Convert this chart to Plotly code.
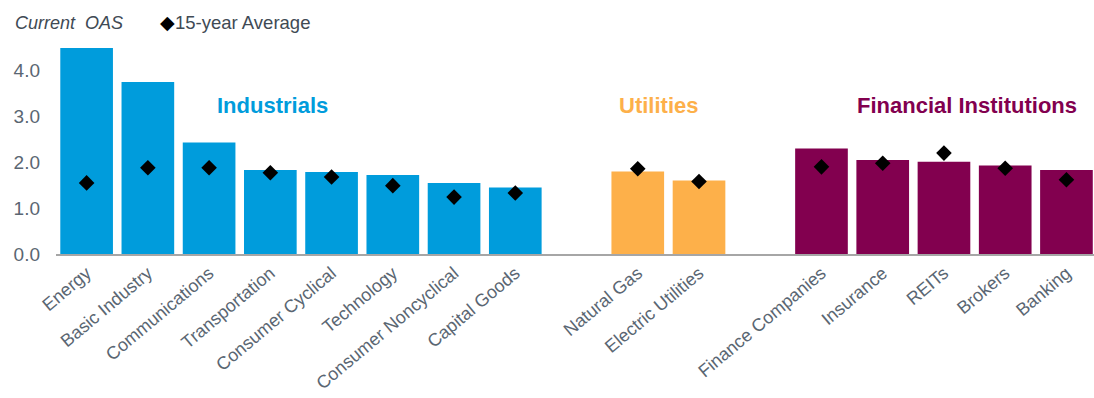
import plotly.graph_objects as go

industrials = ["Energy", "Basic Industry", "Communications", "Transportation",
               "Consumer Cyclical", "Technology", "Consumer Noncyclical", "Capital Goods"]
utilities = ["Natural Gas", "Electric Utilities"]
financials = ["Finance Companies", "Insurance", "REITs", "Brokers", "Banking"]

ind_oas = [4.49, 3.75, 2.43, 1.83, 1.79, 1.72, 1.55, 1.45]
ind_avg = [1.55, 1.88, 1.88, 1.77, 1.68, 1.49, 1.24, 1.33]
utl_oas = [1.80, 1.60]
utl_avg = [1.86, 1.58]
fin_oas = [2.30, 2.05, 2.01, 1.93, 1.83]
fin_avg = [1.90, 1.98, 2.20, 1.87, 1.62]

group_names = ["Industrials", "Utilities", "Financial Institutions"]
group_colors = ["#009CDC", "#FDB04A", "#82004F"]

cats = industrials + utilities + financials
oas = ind_oas + utl_oas + fin_oas
avg = ind_avg + utl_avg + fin_avg
colors = ([group_colors[0]] * len(industrials) + [group_colors[1]] * len(utilities)
          + [group_colors[2]] * len(financials))
category_order = industrials + [" "] + utilities + ["  "] + financials

FONT = "Liberation Sans, Arial, sans-serif"
TXT = "#5A6672"

fig = go.Figure()
fig.add_trace(go.Bar(x=cats, y=oas, marker=dict(color=colors, line=dict(width=0)),
                     name="Current OAS", showlegend=False))
fig.add_trace(go.Scatter(x=cats, y=avg, mode="markers", name="15-year Average",
                         marker=dict(symbol="diamond", size=12, color="black"),
                         showlegend=False))

fig.update_layout(
    width=1094, height=398,
    margin=dict(l=56, r=0, t=43, b=144),
    paper_bgcolor="white", plot_bgcolor="white",
    bargap=0.14,
    font=dict(family=FONT, size=18, color=TXT),
    xaxis=dict(type="category", categoryorder="array", categoryarray=category_order,
               range=[-0.5, 16.45], tickangle=-40, showgrid=False,
               showline=True, linecolor="#A6A6A6", linewidth=1.5, ticks="",
               automargin=False, tickfont=dict(size=18, color=TXT)),
    yaxis=dict(range=[0, 4.6], tickvals=[0, 1, 2, 3, 4], tickformat=".1f",
               showgrid=False, zeroline=False, showline=False, ticks="",
               automargin=False, ticklabelstandoff=15, tickfont=dict(size=19, color=TXT)),
)

group_x = [3.04, 9.34, 14.37]
for name, col, gx in zip(group_names, group_colors, group_x):
    fig.add_annotation(x=gx, y=3.24, xref="x", yref="y", text="<b>%s</b>" % name,
                       showarrow=False, font=dict(size=22, color=col, family=FONT),
                       xanchor="center", yanchor="middle")

fig.add_annotation(x=-0.0414, y=1.095, xref="paper", yref="paper",
                   text="<i>Current  OAS</i>", showarrow=False, xanchor="left",
                   yanchor="middle", font=dict(size=18, color="#404A54", family=FONT))
fig.add_annotation(x=0.098, y=1.095, xref="paper", yref="paper",
                   text="<span style='color:black'>◆</span>15-year Average", showarrow=False,
                   xanchor="left", yanchor="middle",
                   font=dict(size=18.5, color="#404A54", family=FONT))

fig.write_html("out.html", config={"displayModeBar": False},
               post_script="document.body.style.margin='0';")
